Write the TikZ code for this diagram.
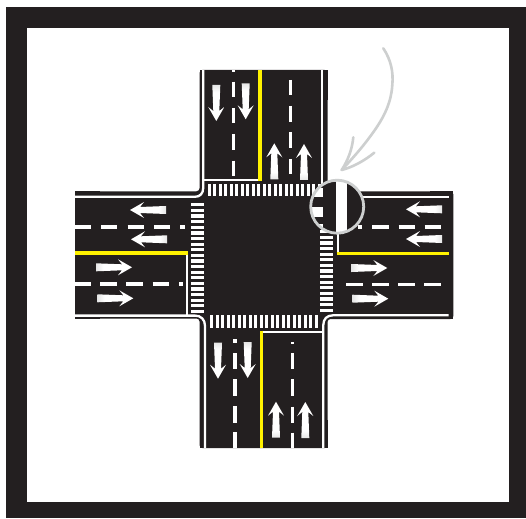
\documentclass[tikz,border=0pt]{standalone}
\usepackage{tikz,xcolor}
\definecolor{roadblack}{HTML}{231F20}
\definecolor{laneyellow}{HTML}{FFF200}
\definecolor{ringgray}{HTML}{CDCFCF}
% tail of a lane arrow is slightly grey
\pgfdeclarehorizontalshading{tailfade}{100bp}{color(0bp)=(black!10); color(25bp)=(black!10); color(35bp)=(white); color(100bp)=(white)}
\tikzset{
  % road edge and stop lines
  edgeline/.style={white, line width=2.3pt},
  % broken lane line
  lanedash/.style={white, line width=3.2pt},
  % centre line
  centreline/.style={laneyellow, line width=3.2pt},
  % arrow painted on a lane
  roadarrow/.style={shading=tailfade},
  % one bar of a zebra crossing
  zebrabar/.style={white},
  % pointer towards the ring
  pointer/.style={ringgray, line width=2.6pt, line cap=round},
}
\begin{document}
\begin{tikzpicture}[x=1pt,y=-1pt]
  \useasboundingbox (0,0) rectangle (526,518);
  % frame
  \fill[roadblack] (6,7.3) rectangle (526,518);
  \fill[white] (27.3,28.3) rectangle (509.3,502.3);
  % road surface
  \fill[roadblack, rounded corners=3pt] (199.5,70) -- (327.5,70) -- (327.5,191.3) -- (453.3,191.3) -- (453.3,319)
    -- (327.5,319) -- (327.5,448) -- (199.5,448) -- (199.5,318.5) -- (75,318.5) -- (75,191.3) -- (199.5,191.3) -- cycle;
  \fill[roadblack] (199.5,70) rectangle (327.5,100);
  \fill[roadblack] (199.5,420) rectangle (327.5,448);
  \fill[roadblack] (75,191.3) rectangle (100,318.5);
  \fill[roadblack] (430,191.3) rectangle (453.3,319);
  % edge lines with their curved corners
  \draw[edgeline] (203.2,70) -- (203.2,188) .. controls (203.2,193.5) and (200,196.8) .. (195,196.8) -- (75,196.8);
  \draw[edgeline] (75,315.6) -- (195,315.6) .. controls (201,315.6) and (205,319.5) .. (205,326) -- (205,448);
  \draw[edgeline] (323.3,448) -- (323.3,325) .. controls (323.3,319) and (327,315.3) .. (333,315.3) -- (448.5,315.3);
  \draw[edgeline] (321.7,70) -- (321.7,185);
  \draw[edgeline] (335,196.8) -- (448.5,196.8);
  % stop lines
  \draw[edgeline] (203.2,179.8) -- (258.5,179.8);
  \draw[edgeline] (187.2,253) -- (187.2,315.6);
  \draw[edgeline] (261.3,331.7) -- (323.3,331.7);
  \draw[edgeline] (338.3,225) -- (338.3,253);
  % centre lines
  \draw[centreline] (260,70) -- (260,181.5);
  \draw[centreline] (75,253) -- (188.4,253);
  \draw[centreline] (261.5,330.5) -- (261.5,448);
  \draw[centreline] (336.7,253.3) -- (448.7,253.3);
  % lane dashes, north and south arms
  \foreach \da/\db in {70/72,81.7/96.7,108/123,134/150,160.7/176}
    \draw[lanedash] (233.7,\da) -- (233.7,\db);
  \foreach \da/\db in {80/95,106/121.7,132/148,159/174}
    \draw[lanedash] (290.7,\da) -- (290.7,\db);
  \foreach \da/\db in {339.3/342.7,353.3/369.3,379.3/396,406/422.7,432.3/448}
    \draw[lanedash] (235,\da) -- (235,\db);
  \foreach \da/\db in {342.3/344,353.3/369.3,379.3/396,406.7/422.7,432.7/448}
    \draw[lanedash] (292.3,\da) -- (292.3,\db);
  % lane dashes, west and east arms
  \foreach \da/\db in {75/91,101.3/117.3,127.7/143.7,154/170,180/185.3}
    \draw[lanedash] (\da,227) -- (\db,227);
  \foreach \da/\db in {75/90.7,100/116.7,126.3/143,152.7/169.3,179/182.7}
    \draw[lanedash] (\da,284) -- (\db,284);
  \foreach \da/\db in {358/362,372.3/389,398.7/415.3,424.7/441.3}
    \draw[lanedash] (\da,227) -- (\db,227);
  \foreach \da/\db in {346/362.7,372/388.7,398.3/415,424.3/441}
    \draw[lanedash] (\da,284.3) -- (\db,284.3);
  % zebra crossings
  \foreach \i in {0,...,20}
    \fill[zebrabar] (207.7+5.5*\i,184) rectangle ++(3.2,12.5);
  \foreach \i in {0,...,19}
    \fill[zebrabar] (210+5.5*\i,315.2) rectangle ++(3.2,12.3);
  \foreach \i in {0,...,19}
    \fill[zebrabar] (190.6,203.3+5.6*\i) rectangle ++(13,3.2);
  \foreach \i in {0,...,18}
    \fill[zebrabar] (320,207.7+5.6*\i) rectangle ++(12.7,3.2);
  % lane arrows: tail position and heading
  \foreach \ax/\ay/\arot in {216.3/85/-90, 245.7/83.3/-90, 274.3/179.3/90, 304/180/90,
      218/342.7/-90, 247.7/342/-90, 276/437.7/90, 305.3/438/90,
      166/210/180, 167/239.3/180, 96/267.3/0, 97.3/298.3/0,
      442/209.3/180, 442/239/180, 351.3/268/0, 352.3/298.7/0}
    \shade[roadarrow, shift={(\ax,\ay)}, rotate=\arot, shading angle=\arot]
      (0,-4) -- (26,-3) -- (22,-8) -- (36,0) -- (22,8) -- (26,3) -- (0,4) -- cycle;
  % magnified ring
  \fill[roadblack] (337.2,206.7) circle (26.5pt);
  \begin{scope}
    \clip (337.2,206.7) circle (26.5pt);
    \fill[white] (335.7,175) rectangle (346.7,240);
    \fill[white] (305,188) rectangle (322.7,196.7);
    \fill[white] (305,207) rectangle (322.7,216.7);
    \fill[white] (305,224) rectangle (322.7,232);
  \end{scope}
  \draw[ringgray, line width=2.8pt] (337.2,206.7) circle (26.5pt);
  % pointer
  \draw[pointer] (383.3,48.3) .. controls (391,60) and (393.5,72) .. (392.3,85)
    .. controls (391,106) and (381,122) .. (370,136.7) .. controls (361,149) and (351,160) .. (341.7,170);
  \draw[pointer] (353.3,137.3) .. controls (352,150) and (348,160) .. (341.7,170);
  \draw[pointer] (374.3,152.7) .. controls (364,161) and (353,167) .. (341.7,170);
\end{tikzpicture}
\end{document}
